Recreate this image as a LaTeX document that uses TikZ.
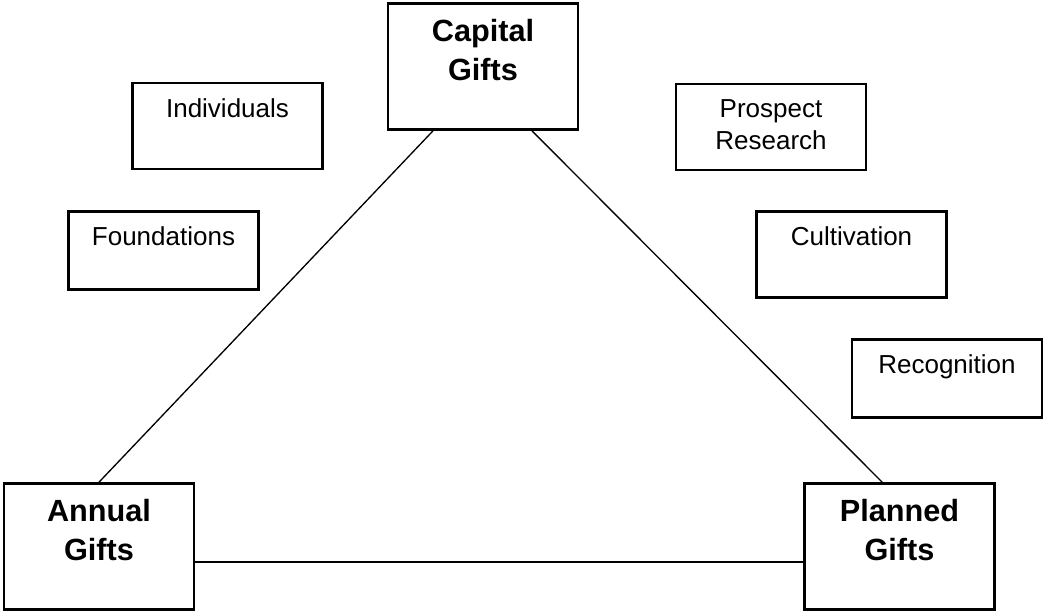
\documentclass[tikz,border=0pt]{standalone}
\usepackage{fontspec}
\setmainfont{Liberation Sans}

\begin{document}
\begin{tikzpicture}[x=0.75pt, y=-0.75pt,
  main/.style = {draw, line width=2pt, minimum width=142.5pt, minimum height=94.5pt},
  side/.style = {draw, line width=2pt, minimum width=142.5pt, minimum height=64.5pt},
  short/.style = {side, minimum height=58.5pt},
  big/.style = {anchor=north, yshift=-9.5pt, align=center, font=\fontsize{23}{29}\selectfont\bfseries},
  small/.style = {anchor=north, yshift=-9pt, align=center, font=\fontsize{19.5}{24}\selectfont}]
\useasboundingbox (0,0) rectangle (1045,615);

%gifts
\node[main, label={[big]north:Capital\\Gifts}] (1) at (483,66.5) {};
\node[main, label={[big]north:Annual\\Gifts}] (2) at (99,546.5) {};
\node[main, label={[big]north:Planned\\Gifts}] (3) at (899.5,546.5) {};

%sources
\node[side, label={[small]north:Individuals}] (4) at (227.5,126) {};
\node[short, label={[small]north:Foundations}] (5) at (163.5,250.5) {};

%steps
\node[side, label={[small]north:Prospect\\Research}] (6) at (771,127) {};
\node[side, label={[small]north:Cultivation}] (7) at (851.5,254.5) {};
\node[short, label={[small]north:Recognition}] (8) at (947,378.5) {};

\draw[line width=1pt] ([xshift=-37.5pt]1.south) -- (2.north);
\draw[line width=1pt] ([xshift=36.75pt]1.south) -- ([xshift=-13pt]3.north);
\draw[line width=1.7pt] ([yshift=-11.5pt]2.east) -- ([yshift=-11.5pt]3.west);
\end{tikzpicture}
\end{document}
